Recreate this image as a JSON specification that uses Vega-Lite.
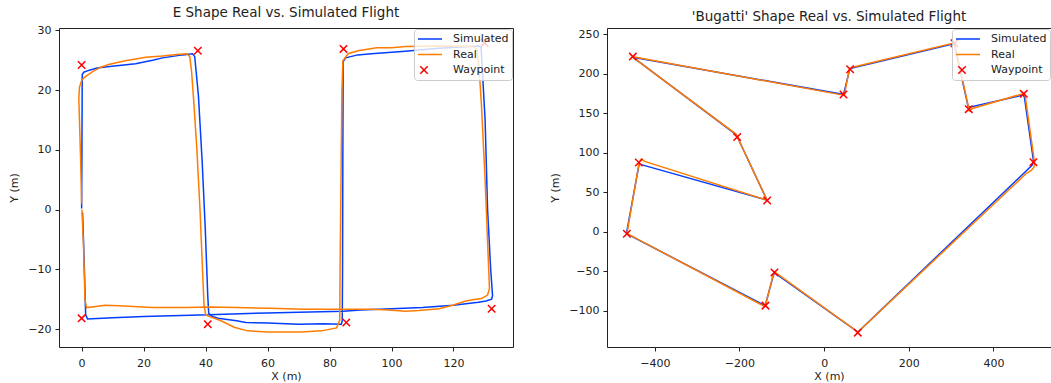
{
  "$schema": "https://vega.github.io/schema/vega-lite/v6.json",
  "padding": {"left": 8, "top": 5, "right": 0, "bottom": 3},
  "spacing": 35,
  "datasets": {
    "eSim": [
      {"s":"Simulated","x":0,"y":0.2},{"s":"Simulated","x":0.1,"y":10},{"s":"Simulated","x":0.2,"y":22.6},{"s":"Simulated","x":0.7,"y":23.0},{"s":"Simulated","x":2.2,"y":23.3},{"s":"Simulated","x":5,"y":23.7},{"s":"Simulated","x":9.8,"y":24.0},{"s":"Simulated","x":17.4,"y":24.4},{"s":"Simulated","x":22.9,"y":25.0},{"s":"Simulated","x":26.1,"y":25.4},{"s":"Simulated","x":32.6,"y":25.9},{"s":"Simulated","x":35.8,"y":26.1},{"s":"Simulated","x":36.5,"y":25.6},{"s":"Simulated","x":37.7,"y":19.0},{"s":"Simulated","x":38.9,"y":8.0},{"s":"Simulated","x":39.9,"y":-3.2},{"s":"Simulated","x":40.7,"y":-14.4},{"s":"Simulated","x":41.0,"y":-17.3},{"s":"Simulated","x":41.7,"y":-17.8},{"s":"Simulated","x":44,"y":-18.2},{"s":"Simulated","x":50,"y":-18.6},{"s":"Simulated","x":53,"y":-18.9},{"s":"Simulated","x":60,"y":-19.0},{"s":"Simulated","x":70,"y":-19.2},{"s":"Simulated","x":78,"y":-19.1},{"s":"Simulated","x":83.8,"y":-19.2},{"s":"Simulated","x":84.1,"y":-18.6},{"s":"Simulated","x":84.2,"y":-10},{"s":"Simulated","x":84.3,"y":10},{"s":"Simulated","x":84.4,"y":24.8},{"s":"Simulated","x":85.2,"y":25.4},{"s":"Simulated","x":89.1,"y":25.9},{"s":"Simulated","x":93.5,"y":26.1},{"s":"Simulated","x":104.5,"y":26.5},{"s":"Simulated","x":115.3,"y":27.0},{"s":"Simulated","x":128.2,"y":27.4},{"s":"Simulated","x":128.9,"y":27.1},{"s":"Simulated","x":130.2,"y":15},{"s":"Simulated","x":131,"y":0},{"s":"Simulated","x":132,"y":-10},{"s":"Simulated","x":132.6,"y":-14.4},{"s":"Simulated","x":132.3,"y":-15.0},{"s":"Simulated","x":130.5,"y":-15.3},{"s":"Simulated","x":128,"y":-15.5},{"s":"Simulated","x":120,"y":-16.0},{"s":"Simulated","x":110,"y":-16.4},{"s":"Simulated","x":100,"y":-16.6},{"s":"Simulated","x":90,"y":-16.8},{"s":"Simulated","x":84.5,"y":-17.0},{"s":"Simulated","x":70,"y":-17.2},{"s":"Simulated","x":60,"y":-17.3},{"s":"Simulated","x":41,"y":-17.6},{"s":"Simulated","x":20,"y":-17.9},{"s":"Simulated","x":10,"y":-18.1},{"s":"Simulated","x":1.9,"y":-18.3},{"s":"Simulated","x":1.3,"y":-17.6},{"s":"Simulated","x":1.0,"y":-12},{"s":"Simulated","x":0.6,"y":-5},{"s":"Simulated","x":0.3,"y":-0.5}
    ],
    "eReal": [
      {"s":"Real","x":0.0,"y":1},{"s":"Real","x":-0.3,"y":8},{"s":"Real","x":-0.7,"y":15},{"s":"Real","x":-0.9,"y":18.6},{"s":"Real","x":-0.7,"y":20.5},{"s":"Real","x":0.0,"y":21.6},{"s":"Real","x":0.8,"y":22.1},{"s":"Real","x":3.3,"y":23.0},{"s":"Real","x":6,"y":23.8},{"s":"Real","x":8.7,"y":24.3},{"s":"Real","x":14.1,"y":24.9},{"s":"Real","x":20.7,"y":25.5},{"s":"Real","x":26.1,"y":25.7},{"s":"Real","x":31.6,"y":26.0},{"s":"Real","x":34.0,"y":26.1},{"s":"Real","x":34.9,"y":25.6},{"s":"Real","x":35.5,"y":23.0},{"s":"Real","x":36.2,"y":18},{"s":"Real","x":37.2,"y":10},{"s":"Real","x":38.2,"y":0},{"s":"Real","x":39.0,"y":-10},{"s":"Real","x":39.5,"y":-16},{"s":"Real","x":40.0,"y":-17.5},{"s":"Real","x":40.7,"y":-17.8},{"s":"Real","x":45,"y":-18.6},{"s":"Real","x":49.2,"y":-19.7},{"s":"Real","x":53.6,"y":-20.3},{"s":"Real","x":60.1,"y":-20.5},{"s":"Real","x":70.9,"y":-20.5},{"s":"Real","x":77.4,"y":-20.3},{"s":"Real","x":82.3,"y":-19.8},{"s":"Real","x":83.3,"y":-18.5},{"s":"Real","x":83.4,"y":-10},{"s":"Real","x":83.7,"y":5},{"s":"Real","x":84.0,"y":20},{"s":"Real","x":84.3,"y":24.9},{"s":"Real","x":86,"y":26.1},{"s":"Real","x":89.2,"y":26.6},{"s":"Real","x":95.2,"y":27.1},{"s":"Real","x":100,"y":27.1},{"s":"Real","x":104.5,"y":27.3},{"s":"Real","x":115.3,"y":27.4},{"s":"Real","x":126.2,"y":27.3},{"s":"Real","x":127.6,"y":26.9},{"s":"Real","x":128.3,"y":23.3},{"s":"Real","x":129,"y":17.7},{"s":"Real","x":130.2,"y":5},{"s":"Real","x":131.2,"y":-8},{"s":"Real","x":131.6,"y":-13.2},{"s":"Real","x":131.0,"y":-14.3},{"s":"Real","x":129,"y":-14.9},{"s":"Real","x":126.2,"y":-15.1},{"s":"Real","x":124,"y":-15.3},{"s":"Real","x":119.7,"y":-16.0},{"s":"Real","x":115.3,"y":-16.6},{"s":"Real","x":108.8,"y":-16.9},{"s":"Real","x":104.5,"y":-17.0},{"s":"Real","x":99,"y":-16.8},{"s":"Real","x":93.6,"y":-16.7},{"s":"Real","x":88.1,"y":-16.7},{"s":"Real","x":82.7,"y":-16.7},{"s":"Real","x":71.8,"y":-16.7},{"s":"Real","x":60.9,"y":-16.5},{"s":"Real","x":50,"y":-16.4},{"s":"Real","x":41.3,"y":-16.3},{"s":"Real","x":33.7,"y":-16.4},{"s":"Real","x":22.9,"y":-16.4},{"s":"Real","x":12,"y":-16.1},{"s":"Real","x":7.6,"y":-16.0},{"s":"Real","x":3.3,"y":-16.3},{"s":"Real","x":1.6,"y":-16.4},{"s":"Real","x":1.1,"y":-15.2},{"s":"Real","x":0.6,"y":-6},{"s":"Real","x":0.1,"y":0}
    ],
    "eWp": [
      {"s":"Waypoint","x":0,"y":24.2},{"s":"Waypoint","x":37.5,"y":26.6},{"s":"Waypoint","x":40.7,"y":-19.2},{"s":"Waypoint","x":85.4,"y":-18.9},{"s":"Waypoint","x":84.5,"y":26.9},{"s":"Waypoint","x":130,"y":27.9},{"s":"Waypoint","x":132.3,"y":-16.6},{"s":"Waypoint","x":0,"y":-18.2}
    ],
    "bSim": [
      {"s":"Simulated","x":-452,"y":221},{"s":"Simulated","x":44,"y":174},{"s":"Simulated","x":47,"y":176},{"s":"Simulated","x":60,"y":205},{"s":"Simulated","x":64,"y":207},{"s":"Simulated","x":306,"y":238},{"s":"Simulated","x":308,"y":236},{"s":"Simulated","x":340,"y":159},{"s":"Simulated","x":346,"y":158},{"s":"Simulated","x":470,"y":173},{"s":"Simulated","x":473,"y":171},{"s":"Simulated","x":495,"y":88},{"s":"Simulated","x":491,"y":84},{"s":"Simulated","x":80,"y":-127},{"s":"Simulated","x":-117,"y":-52},{"s":"Simulated","x":-121,"y":-57},{"s":"Simulated","x":-139,"y":-93},{"s":"Simulated","x":-142,"y":-93},{"s":"Simulated","x":-465,"y":-3},{"s":"Simulated","x":-466,"y":1},{"s":"Simulated","x":-437,"y":86},{"s":"Simulated","x":-432,"y":85},{"s":"Simulated","x":-135,"y":40},{"s":"Simulated","x":-205,"y":120},{"s":"Simulated","x":-208,"y":123},{"s":"Simulated","x":-452,"y":221}
    ],
    "bReal": [
      {"s":"Real","x":-455,"y":222},{"s":"Real","x":45,"y":173},{"s":"Real","x":48,"y":173},{"s":"Real","x":59,"y":205},{"s":"Real","x":65,"y":208},{"s":"Real","x":306,"y":239},{"s":"Real","x":309,"y":236},{"s":"Real","x":343,"y":153},{"s":"Real","x":350,"y":156},{"s":"Real","x":471,"y":175},{"s":"Real","x":475,"y":172},{"s":"Real","x":497,"y":88},{"s":"Real","x":496,"y":82},{"s":"Real","x":490,"y":78},{"s":"Real","x":478,"y":74},{"s":"Real","x":80,"y":-127},{"s":"Real","x":-117,"y":-51},{"s":"Real","x":-121,"y":-56},{"s":"Real","x":-139,"y":-94},{"s":"Real","x":-143,"y":-94},{"s":"Real","x":-463,"y":-3},{"s":"Real","x":-465,"y":0},{"s":"Real","x":-437,"y":88},{"s":"Real","x":-432,"y":92},{"s":"Real","x":-424,"y":89},{"s":"Real","x":-135,"y":40},{"s":"Real","x":-205,"y":120},{"s":"Real","x":-209,"y":124},{"s":"Real","x":-455,"y":222}
    ],
    "bWp": [
      {"s":"Waypoint","x":-452,"y":221.8},{"s":"Waypoint","x":45.7,"y":173.8},{"s":"Waypoint","x":61.4,"y":205.8},{"s":"Waypoint","x":307.9,"y":238.7},{"s":"Waypoint","x":341.7,"y":155.2},{"s":"Waypoint","x":471.7,"y":174.6},{"s":"Waypoint","x":494.5,"y":88.1},{"s":"Waypoint","x":79.5,"y":-127.8},{"s":"Waypoint","x":-117.3,"y":-51.5},{"s":"Waypoint","x":-138.6,"y":-93.6},{"s":"Waypoint","x":-466.1,"y":-2.5},{"s":"Waypoint","x":-437.8,"y":87.7},{"s":"Waypoint","x":-134.6,"y":39.6},{"s":"Waypoint","x":-205.5,"y":119.8}
    ]
  },
  "hconcat": [
    {
      "width": 454,
      "height": 319,
      "title": "E Shape Real vs. Simulated Flight",
      "encoding": {
        "x": {"field": "x", "type": "quantitative", "scale": {"domain": [-7.3, 139.2], "nice": false, "zero": false}, "axis": {"title": "X (m)", "values": [0, 20, 40, 60, 80, 100, 120]}},
        "y": {"field": "y", "type": "quantitative", "scale": {"domain": [-23.0, 30.4], "nice": false, "zero": false}, "axis": {"title": "Y (m)", "values": [-20, -10, 0, 10, 20, 30]}}
      },
      "layer": [
        {"data": {"name": "eSim"}, "mark": {"type": "line", "strokeWidth": 1.5},
         "encoding": {"order": {"value": null}, "color": {"field": "s", "type": "nominal", "scale": {"domain": ["Simulated", "Real", "Waypoint"], "range": ["#023eff", "#ff7c00", "#ff0000"]}, "legend": {"title": null}}}},
        {"data": {"name": "eReal"}, "mark": {"type": "line", "strokeWidth": 1.5},
         "encoding": {"order": {"value": null}, "color": {"field": "s", "type": "nominal", "scale": {"domain": ["Simulated", "Real", "Waypoint"], "range": ["#023eff", "#ff7c00", "#ff0000"]}, "legend": {"title": null}}}},
        {"data": {"name": "eWp"}, "mark": {"type": "point", "filled": false, "size": 144, "strokeWidth": 1.5, "opacity": 1},
         "encoding": {
           "color": {"field": "s", "type": "nominal", "scale": {"domain": ["Simulated", "Real", "Waypoint"], "range": ["#023eff", "#ff7c00", "#ff0000"]}, "legend": {"title": null}},
           "shape": {"field": "s", "type": "nominal", "scale": {"domain": ["Simulated", "Real", "Waypoint"], "range": ["M-1,0L3,0", "M-1,0L3,0", "M-0.62,-0.62L0.62,0.62M-0.62,0.62L0.62,-0.62"]}, "legend": {"title": null}}
         }}
      ]
    },
    {
      "width": 444,
      "height": 319,
      "title": "'Bugatti' Shape Real vs. Simulated Flight",
      "encoding": {
        "x": {"field": "x", "type": "quantitative", "scale": {"domain": [-513, 536], "nice": false, "zero": false}, "axis": {"title": "X (m)", "values": [-400, -200, 0, 200, 400]}},
        "y": {"field": "y", "type": "quantitative", "scale": {"domain": [-146, 258], "nice": false, "zero": false}, "axis": {"title": "Y (m)", "values": [-100, -50, 0, 50, 100, 150, 200, 250]}}
      },
      "layer": [
        {"data": {"name": "bSim"}, "mark": {"type": "line", "strokeWidth": 1.5},
         "encoding": {"order": {"value": null}, "color": {"field": "s", "type": "nominal", "scale": {"domain": ["Simulated", "Real", "Waypoint"], "range": ["#023eff", "#ff7c00", "#ff0000"]}, "legend": {"title": null}}}},
        {"data": {"name": "bReal"}, "mark": {"type": "line", "strokeWidth": 1.5},
         "encoding": {"order": {"value": null}, "color": {"field": "s", "type": "nominal", "scale": {"domain": ["Simulated", "Real", "Waypoint"], "range": ["#023eff", "#ff7c00", "#ff0000"]}, "legend": {"title": null}}}},
        {"data": {"name": "bWp"}, "mark": {"type": "point", "filled": false, "size": 144, "strokeWidth": 1.5, "opacity": 1},
         "encoding": {
           "color": {"field": "s", "type": "nominal", "scale": {"domain": ["Simulated", "Real", "Waypoint"], "range": ["#023eff", "#ff7c00", "#ff0000"]}, "legend": {"title": null}},
           "shape": {"field": "s", "type": "nominal", "scale": {"domain": ["Simulated", "Real", "Waypoint"], "range": ["M-1,0L3,0", "M-1,0L3,0", "M-0.62,-0.62L0.62,0.62M-0.62,0.62L0.62,-0.62"]}, "legend": {"title": null}}
         }}
      ]
    }
  ],
  "resolve": {"scale": {"color": "independent", "shape": "independent"}, "legend": {"color": "independent", "shape": "independent"}},
  "config": {
    "font": "DejaVu Sans",
    "view": {"stroke": "#222222", "strokeWidth": 1},
    "title": {"fontSize": 13.5, "fontWeight": "normal", "color": "#222222", "offset": 5, "anchor": "middle"},
    "axis": {"grid": false, "domain": false, "tickSize": 4, "tickColor": "#222222", "labelFontSize": 11, "labelColor": "#222222", "labelPadding": 4, "titleFontSize": 11, "titleFontWeight": "normal", "titleColor": "#222222", "labelFlush": false},
    "axisY": {"titlePadding": 8},
    "axisX": {"titlePadding": 2, "labelPadding": 6},
    "legend": {"orient": "top-right", "offset": 1, "fillColor": "rgba(255,255,255,0.8)", "strokeColor": "#cccccc", "cornerRadius": 3, "padding": 3, "labelFontSize": 11, "labelColor": "#222222", "symbolSize": 144, "symbolStrokeWidth": 1.5, "rowPadding": 3.5, "labelOffset": 22, "labelLimit": 0}
  }
}
